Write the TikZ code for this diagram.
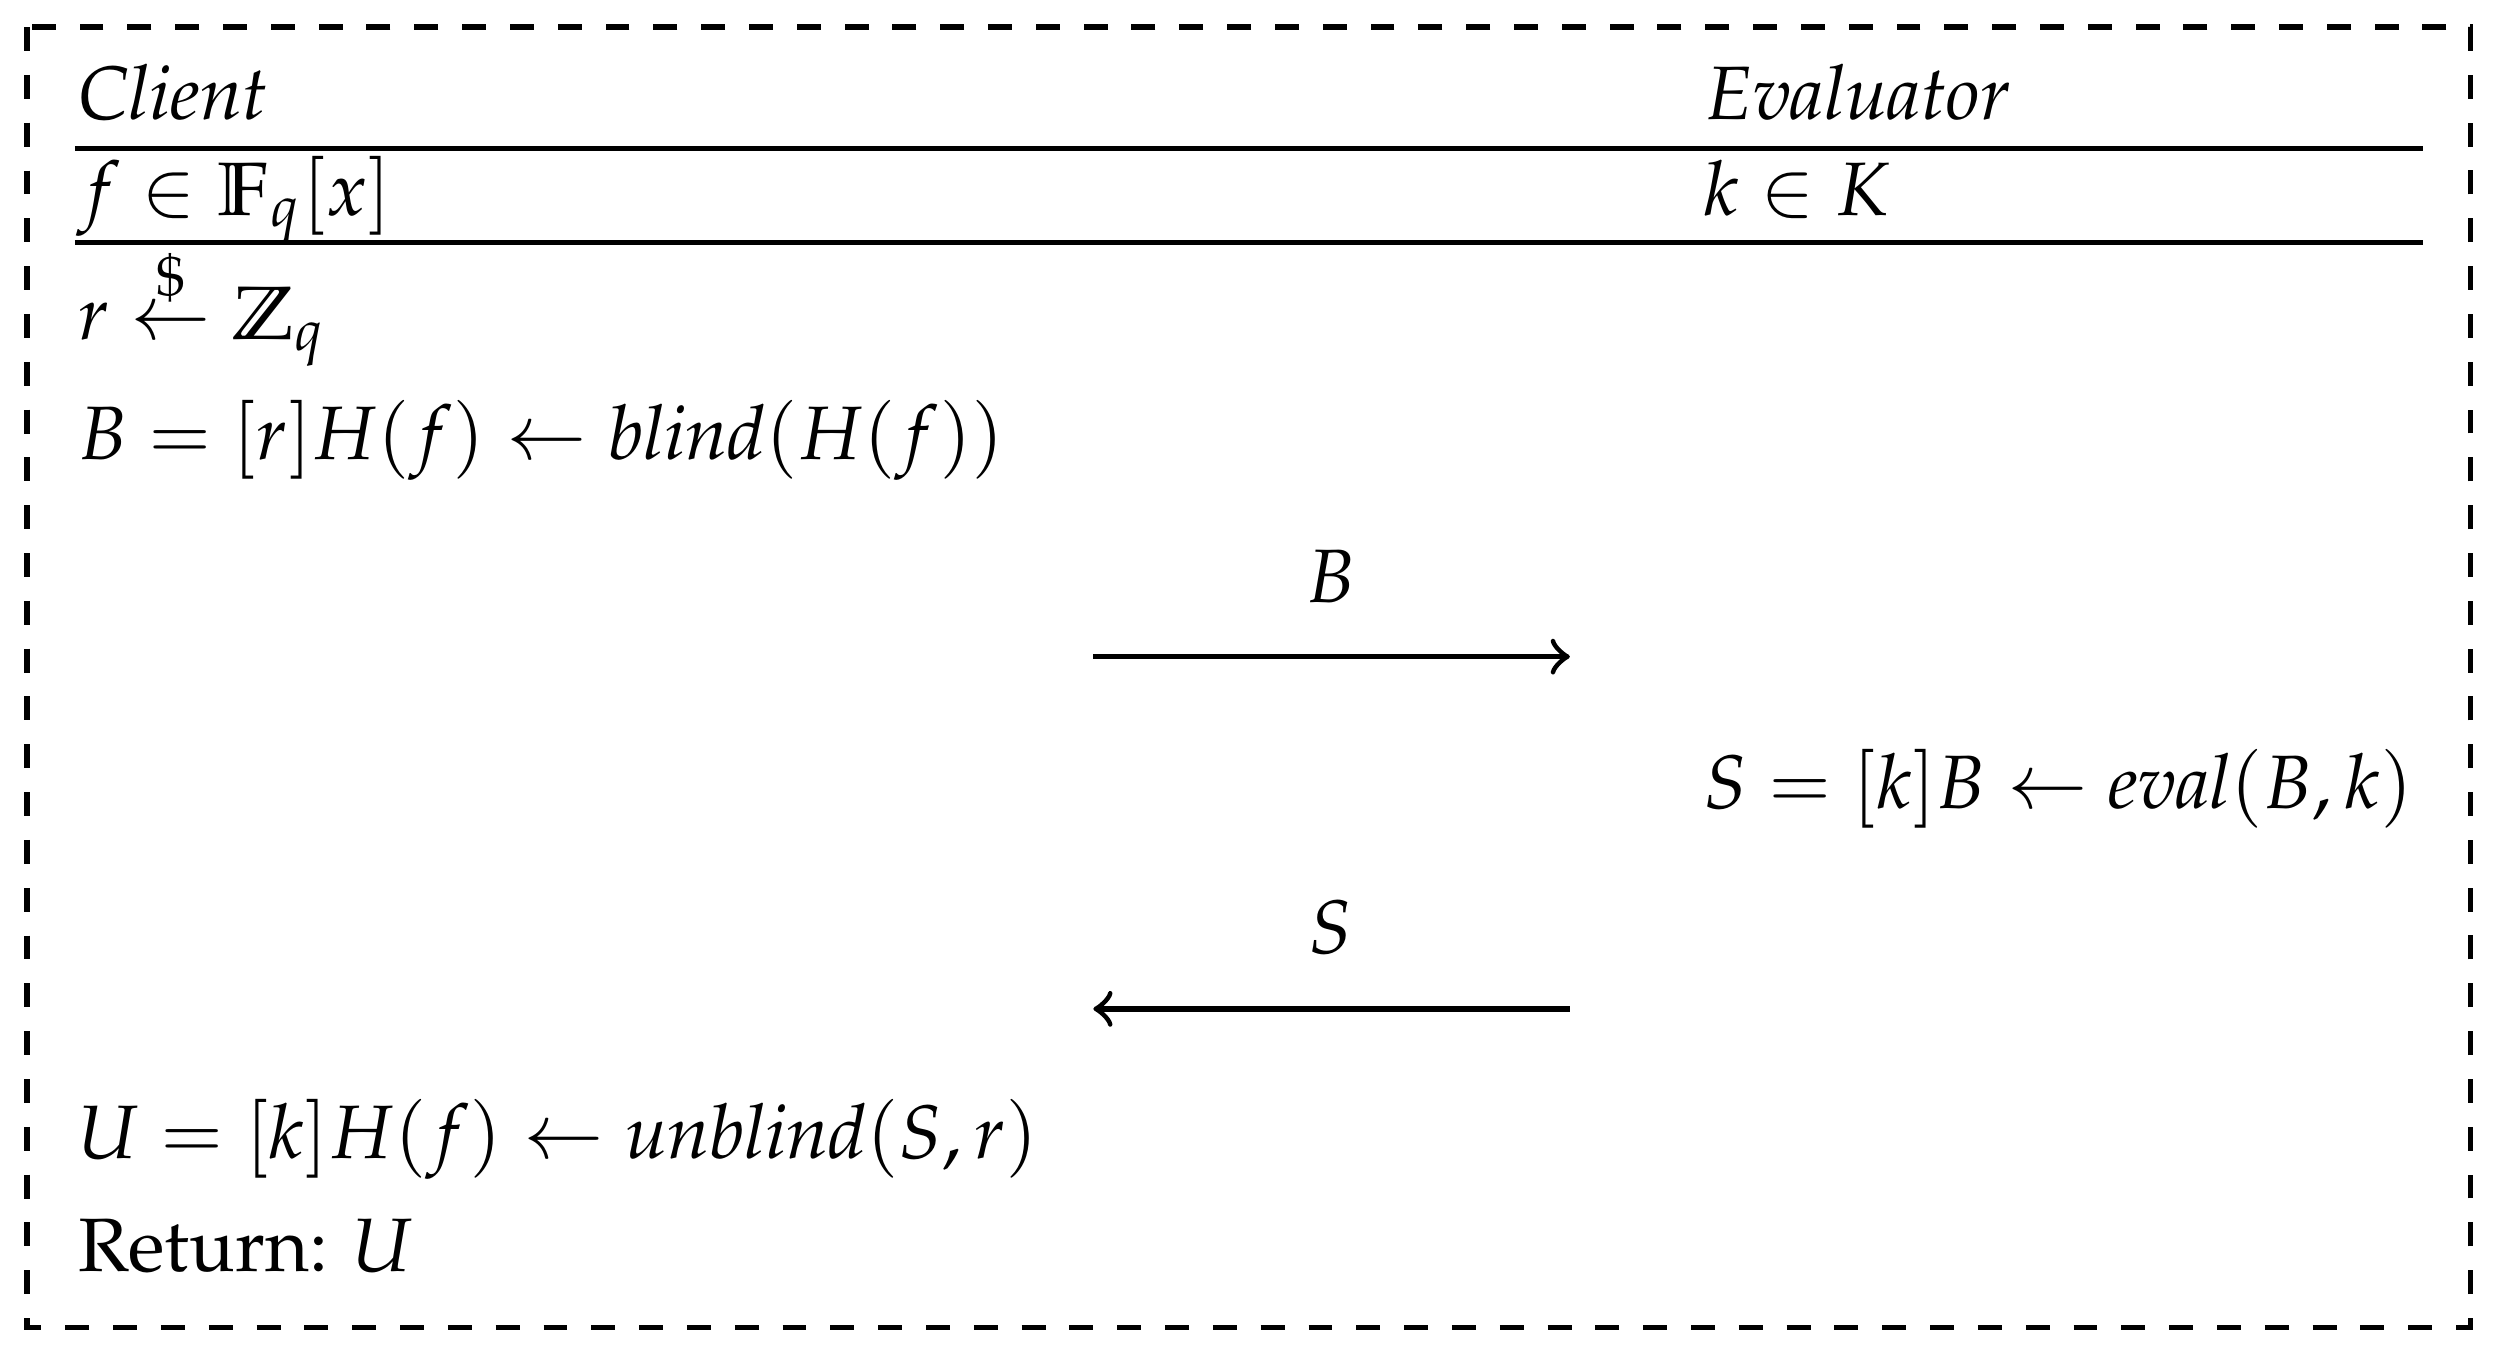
\documentclass[tikz,border=0pt]{standalone}
\usepackage[T1]{fontenc}
\usepackage{amsmath,amssymb}
\usepackage{mathpazo}
\begin{document}
\begin{tikzpicture}[x=0.2pt,y=-0.2pt,
  txt/.style={anchor=base west,inner sep=0pt,scale=0.95},
  lbl/.style={anchor=base,inner sep=0pt,scale=0.95},
  msg/.style={line width=0.7pt,-to}]
\useasboundingbox (0,0) rectangle (1568,853);
\draw[dashed,line width=0.7pt] (17,17) rectangle (1550,833);
\node[txt] (cl) at (48,75) {\textit{Client}};
\node[txt] (ev) at (1070,75) {\textit{Evaluator}};
\draw[line width=0.6pt] (47,93) -- (1520,93);
\node[txt] (f) at (48,135) {$f\in\mathbb{F}_q[x]$};
\node[txt] (k) at (1068,135) {$k\in K$};
\draw[line width=0.6pt] (47,152) -- (1520,152);
\node[txt] (r) at (48,213) {$r\overset{\$}{\leftarrow}\mathbb{Z}_q$};
\node[txt] (b) at (48,288) {$B=[r]H(f)\leftarrow \mathit{blind}(H(f))$};
\coordinate (a1) at (686,412);
\coordinate (a2) at (985,412);
\draw[msg] (a1) -- (a2);
\node[lbl] (lb) at (835,378) {$B$};
\node[txt] (s) at (1068,507) {$S=[k]B\leftarrow \mathit{eval}(B,k)$};
\coordinate (c1) at (985,633);
\coordinate (c2) at (686,633);
\draw[msg] (c1) -- (c2);
\node[lbl] (ls) at (835,598) {$S$};
\node[txt] (u) at (48,727) {$U=[k]H(f)\leftarrow \mathit{unblind}(S,r)$};
\node[txt] (ret) at (48,798) {Return: $U$};
\end{tikzpicture}
\end{document}
